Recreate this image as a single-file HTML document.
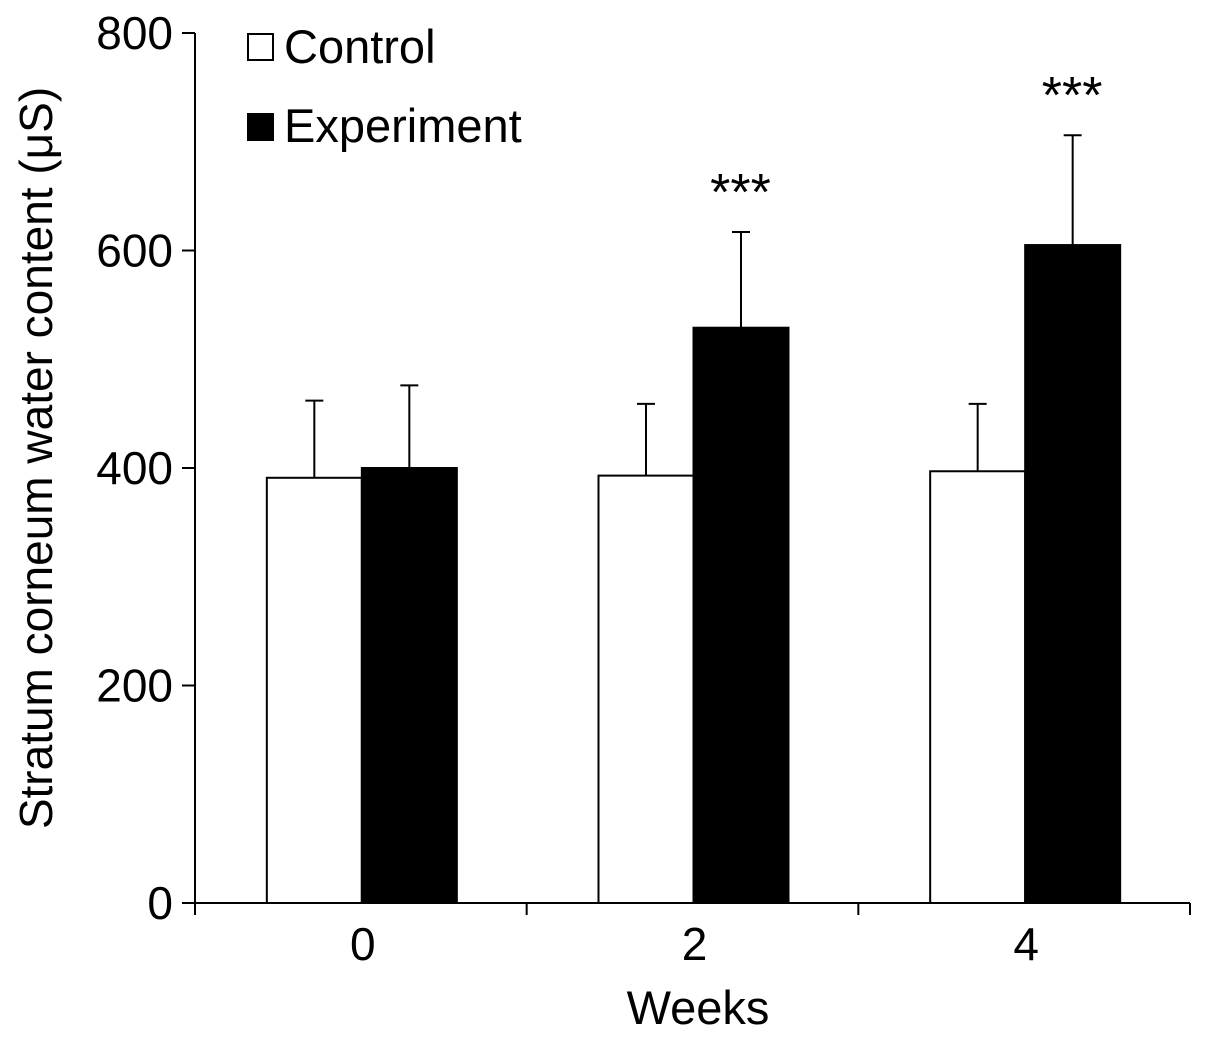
<!DOCTYPE html>
<html><head><meta charset="utf-8"><style>
body{margin:0;background:#fff}
svg{display:block;font-family:"Liberation Sans",Arial,sans-serif}
</style></head><body>
<svg id="c" width="1205" height="1037"></svg>
<script>
const categories=["0","2","4"];
const controlValues=[391,393,397];
const controlErrors=[71,66,62];
const experimentValues=[400,529,605];
const experimentErrors=[76,88,101];
const significance=["","***","***"];
const yTicks=[0,200,400,600,800];

const NS="http://www.w3.org/2000/svg";
const svg=document.getElementById('c');
const x0=195,x1=1190,yTop=33,yBot=903,yMax=800;
const y=v=>yBot-(v/yMax)*(yBot-yTop);
const cw=(x1-x0)/categories.length;
const bw=95;
function mk(t,a,txt){const e=document.createElementNS(NS,t);for(const k in a)e.setAttribute(k,a[k]);if(txt!==undefined)e.textContent=txt;svg.appendChild(e);return e;}

let e=mk('line',{x1:x0,y1:yTop,x2:x0,y2:yBot+1,stroke:'#000','stroke-width':2});


e=mk('line',{x1:x0-1,y1:yBot,x2:x1,y2:yBot,stroke:'#000','stroke-width':2});



yTicks.forEach(v=>{
  e=mk('line',{x1:x0-13,y1:y(v),x2:x0,y2:y(v),stroke:'#000','stroke-width':2});
  
  
  e=mk('text',{x:173,y:y(v)+16,'text-anchor':'end','font-size':46},v);
  
  
});
for(let i=0;i<=categories.length;i++){
  e=mk('line',{x1:x0+i*cw,y1:yBot,x2:x0+i*cw,y2:yBot+12,stroke:'#000','stroke-width':2});
  
  
}
categories.forEach((c,i)=>{
  const cx=x0+cw*(i+0.5);
  e=mk('text',{x:cx+2,y:960,'text-anchor':'middle','font-size':46},c);
  
  
  const series=[[controlValues[i],controlErrors[i],'#fff',cx-bw+1,'control'],[experimentValues[i],experimentErrors[i],'#000',cx+1,'experiment']];
  series.forEach(([v,er,fill,bx,nm])=>{
    const mx=bx+bw/2;
    e=mk('line',{x1:mx,y1:y(v),x2:mx,y2:y(v+er),stroke:'#000','stroke-width':2});
    
    
    e=mk('line',{x1:mx-9,y1:y(v+er),x2:mx+9,y2:y(v+er),stroke:'#000','stroke-width':2});
    
    
    e=mk('rect',{x:bx,y:y(v),width:bw,height:yBot-y(v),fill:fill,stroke:'#000','stroke-width':2});
    
    
  });
  if(significance[i]){
    e=mk('text',{x:cx+48,y:y(experimentValues[i]+experimentErrors[i])-22,'text-anchor':'middle','font-size':52},significance[i]);
    
    
  }
});
e=mk('text',{x:698,y:1024,'text-anchor':'middle','font-size':47},'Weeks');


e=mk('text',{x:0,y:0,'text-anchor':'middle','font-size':46,transform:'translate(52,458) rotate(-90)'},'Stratum corneum water content (μS)');


e=mk('rect',{x:248,y:34,width:25,height:26,fill:'#fff',stroke:'#000','stroke-width':2});


e=mk('text',{x:284,y:63,'font-size':47},'Control');


e=mk('rect',{x:248,y:114,width:25,height:26,fill:'#000',stroke:'#000','stroke-width':2});


e=mk('text',{x:284,y:142,'font-size':47},'Experiment');


</script>
</body></html>
